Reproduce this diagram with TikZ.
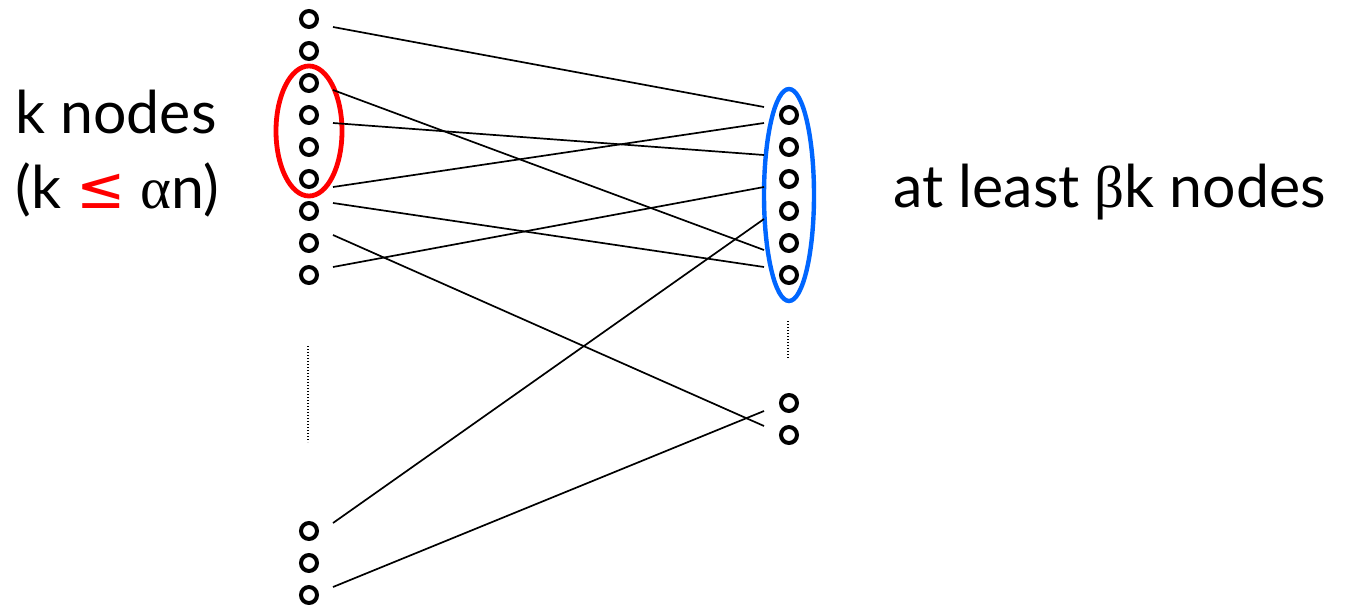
\documentclass[tikz,border=0pt]{standalone}
\usepackage{fontspec}
\setmainfont{Lato}
\newfontfamily\greekfont{Liberation Serif}
\newfontfamily\symfont{DejaVu Sans}
\usetikzlibrary{positioning,calc}
\definecolor{setred}{RGB}{255,0,0}
\definecolor{setblue}{RGB}{0,102,255}

\begin{document}
\begin{tikzpicture}[x=0.5pt, y=-0.5pt, vtx/.style={draw,circle,line width=2pt,minimum size=8pt,inner sep=0pt}, link/.style={line width=0.85pt}, gap/.style={line width=0.7pt,dash pattern=on 0.7pt off 0.8pt}, lbl/.style={font=\fontsize{29.5}{35}\selectfont,anchor=base west,inner sep=0pt}]
\useasboundingbox (0,0) rectangle (1350,605);
% left side
\foreach \i in {1,...,9} \node[vtx] (l\i) at (309,{19+32*(\i-1)}) {};
\foreach \i in {1,2,3} \node[vtx] (lb\i) at (309,{531+32*(\i-1)}) {};
% right side
\foreach \i in {1,...,6} \node[vtx] (r\i) at (789,{115+32*(\i-1)}) {};
\foreach \i in {1,2} \node[vtx] (rb\i) at (789,{403+32*(\i-1)}) {};
\draw[gap] ([shift={(-1,71)}]l9.center) -- ([shift={(-1,167)}]l9.center);
\draw[gap] ([shift={(-1,46)}]r6.center) -- ([shift={(-1,84)}]r6.center);
% groups
\draw[setred,line width=2.4pt] ($(l3)!.5!(l6)$) ellipse [x radius=33, y radius=65];
\draw[setblue,line width=2.2pt] ($(r1)!.5!(r6)$) ellipse [x radius=25, y radius=106];
% edges
\draw[link] ([shift={(24,8)}]l1.center) -- ([shift={(-25,-8)}]r1.center);
\draw[link] ([shift={(24,7)}]l3.center) -- ([shift={(-25,7)}]r5.center);
\draw[link] ([shift={(24,8)}]l4.center) -- ([shift={(-25,8)}]r2.center);
\draw[link] ([shift={(24,8)}]l6.center) -- ([shift={(-25,8)}]r1.center);
\draw[link] ([shift={(24,-8)}]l7.center) -- ([shift={(-25,-8)}]r6.center);
\draw[link] ([shift={(24,-8)}]l8.center) -- ([shift={(-25,-9)}]rb2.center);
\draw[link] ([shift={(24,-8)}]l9.center) -- ([shift={(-25,8)}]r3.center);
\draw[link] ([shift={(24,-8)}]lb1.center) -- ([shift={(-25,8)}]r4.center);
\draw[link] ([shift={(24,-8)}]lb3.center) -- ([shift={(-25,8)}]rb1.center);
% labels
\node[lbl] (ksize) at (15,133) {k nodes};
\node[lbl] (kbound) at (15,208) {(k {\symfont\color{setred}≤} {\greekfont α}n)};
\node[lbl] (nbrs) at (893,207) {at least {\greekfont β}k nodes};
\end{tikzpicture}
\end{document}
